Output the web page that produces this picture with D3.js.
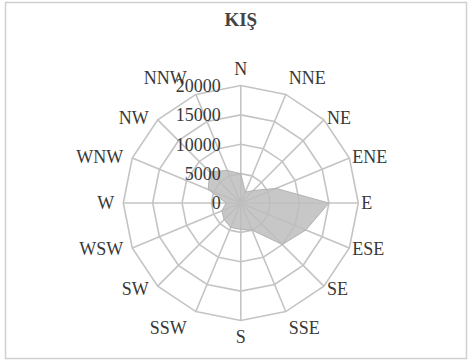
<!DOCTYPE html>
<html>
<head>
<meta charset="utf-8">
<script src="https://cdn.jsdelivr.net/npm/d3@7"></script>
<style>
  html, body { margin: 0; padding: 0; background: #ffffff; }
  svg { display: block; }
  text { font-family: "Liberation Serif", "Times New Roman", serif; }
</style>
</head>
<body>
<svg id="chart" width="472" height="364"></svg>
<script>
// Winter wind rose: frequency per compass direction
const directions = ["N","NNE","NE","ENE","E","ESE","SE","SSE","S","SSW","SW","WSW","W","WNW","NW","NNW"];
const winterValues = [5000, 2000, 3000, 6500, 15000, 12000, 10000, 5000, 4500, 4500, 4000, 3500, 2500, 6000, 7500, 6000];
const tickValues = [0, 5000, 10000, 15000, 20000];
const tickLabels = ["0", "5000", "10000", "15000", "20000"];
const chartTitle = "KIŞ";

const svg = d3.select("#chart");
const cx = 240.8, cy = 203;
const R = 117.5;

const textColor = "#383838";
const gridColor = "#c4c4c4";

// frame
svg.append("rect")
  .attr("x", 5.5).attr("y", 2.5)
  .attr("width", 461).attr("height", 356)
  .attr("fill", "#fff")
  .attr("stroke", "#d0d0d0")
  .attr("stroke-width", 1.5);

// title
svg.append("text")
  .attr("x", cx).attr("y", 26)
  .attr("text-anchor", "middle")
  .attr("font-size", 19)
  .attr("font-weight", "bold")
  .attr("fill", "#444")
  .text(chartTitle);

const r = d3.scaleLinear().domain([0, 20000]).range([0, R]);
const angle = d3.scalePoint().domain(directions).range([0, 2 * Math.PI * (15 / 16)]);

const g = svg.append("g").attr("transform", `translate(${cx},${cy})`);

// ring polygons
const ring = d3.lineRadial()
  .angle(d => angle(d))
  .curve(d3.curveLinearClosed);

g.selectAll(".ring")
  .data(tickValues.filter(v => v > 0))
  .join("path")
  .attr("class", "ring")
  .attr("d", v => ring.radius(() => r(v))(directions))
  .attr("fill", "none")
  .attr("stroke", gridColor)
  .attr("stroke-width", 1.6);

// spokes
g.selectAll(".spoke")
  .data(directions)
  .join("line")
  .attr("class", "spoke")
  .attr("x1", 0).attr("y1", 0)
  .attr("x2", d => R * Math.sin(angle(d)))
  .attr("y2", d => -R * Math.cos(angle(d)))
  .attr("stroke", gridColor)
  .attr("stroke-width", 1.6);

// filled data area
const area = d3.lineRadial()
  .angle((d, i) => angle(directions[i]))
  .radius(d => r(d))
  .curve(d3.curveLinearClosed);

g.append("path")
  .attr("d", area(winterValues))
  .attr("fill", "#bdbdbd")
  .attr("fill-opacity", 0.85)
  .attr("stroke", "#b3b3b3")
  .attr("stroke-width", 1);

// direction labels
g.selectAll(".dir")
  .data(directions)
  .join("text")
  .attr("class", "dir")
  .each(function (d) {
    const a = angle(d);
    const s = Math.sin(a), c = Math.cos(a);
    const ex = R * s, ey = -R * c;
    let x = ex, anchor = "middle";
    if (s > 0.1) { x = ex + 3; anchor = "start"; }
    else if (s < -0.1) { x = ex - 9; anchor = "end"; }
    let y = ey;
    if (c > 0.9) y = ey - 17;
    else if (c < -0.9) y = ey + 16;
    else y = ey - 3 * c;
    d3.select(this)
      .attr("x", x).attr("y", y)
      .attr("dy", "0.35em")
      .attr("text-anchor", anchor);
  })
  .attr("font-size", 18)
  .attr("fill", textColor)
  .text(d => d);

// value labels along the north spoke
g.selectAll(".tick")
  .data(tickValues)
  .join("text")
  .attr("class", "tick")
  .attr("x", -20)
  .attr("y", v => -r(v))
  .attr("dy", "0.35em")
  .attr("text-anchor", "end")
  .attr("font-size", 18)
  .attr("fill", textColor)
  .text((v, i) => tickLabels[i]);
</script>
</body>
</html>
